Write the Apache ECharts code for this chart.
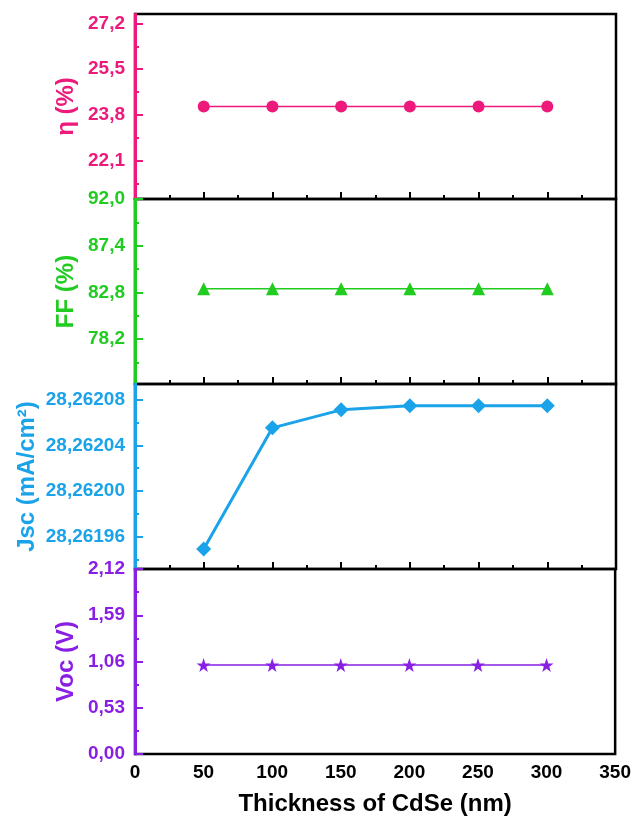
<!DOCTYPE html>
<html>
<head>
<meta charset="utf-8">
<script src="https://cdn.jsdelivr.net/npm/echarts@6/dist/echarts.min.js"></script>
<style>html,body{margin:0;padding:0;background:#fff}#c{width:634px;height:823px}</style>
</head>
<body>
<div id="c"></div>
<script>
// ---- data ----
var thickness = [50, 100, 150, 200, 250, 300];
var eta = [24.12, 24.12, 24.12, 24.12, 24.12, 24.12];
var ff = [83.15, 83.15, 83.15, 83.15, 83.15, 83.15];
var jsc = [28.261949, 28.2620555, 28.2620713, 28.262075, 28.262075, 28.262075];
var voc = [1.02, 1.02, 1.02, 1.02, 1.02, 1.02];

var xTicks = [0, 50, 100, 150, 200, 250, 300, 350];
var etaTicks = [22.1, 23.8, 25.5, 27.2];
var etaMinor = [21.25, 22.95, 24.65, 26.35];
var ffTicks = [78.2, 82.8, 87.4, 92.0];
var ffMinor = [75.9, 80.5, 85.1, 89.7];
var jscTicks = [28.26196, 28.26200, 28.26204, 28.26208];
var jscMinor = [28.26194, 28.26198, 28.26202, 28.26206];
var vocTicks = [0, 0.53, 1.06, 1.59, 2.12];
var vocMinor = [0.265, 0.795, 1.325, 1.855];

var FONT = '"Liberation Sans", Arial, sans-serif';
var panels = [
  {name: 'η (%)', color: '#EE1A7B', data: eta, ticks: etaTicks, minor: etaMinor, min: 20.685, max: 27.55, dec: 1, gap: 57, symbol: 'circle', size: 12, lw: 1.5},
  {name: 'FF (%)', color: '#1FCC1F', data: ff, ticks: ffTicks, minor: ffMinor, min: 73.77, max: 92.0, dec: 1, gap: 57, symbol: 'triangle', size: 13, lw: 1.5},
  {name: 'Jsc (mA/cm²)', color: '#1BA3EA', data: jsc, ticks: jscTicks, minor: jscMinor, min: 28.2619315, max: 28.262094, dec: 5, gap: 96, symbol: 'diamond', size: 15, lw: 3},
  {name: 'Voc (V)', color: '#8A1FE4', data: voc, ticks: vocTicks, minor: vocMinor, min: 0, max: 2.12, dec: 2, gap: 57, symbol: 'path://M50,0 L61.8,35.1 L98.1,35.1 L68.8,56.7 L79.4,91.0 L50,70 L20.6,91.0 L31.2,56.7 L1.9,35.1 L38.2,35.1 Z', size: 14, lw: 1.5}
];

var tops = [14, 199, 384, 569];
var H = 185;
var grids = [], xAxes = [], yAxes = [], series = [];
panels.forEach(function (p, i) {
  grids.push({left: 135, right: 18, top: tops[i], height: H, show: true, borderColor: '#000', borderWidth: 2.5, backgroundColor: 'transparent', containLabel: false});
  var last = i === panels.length - 1;
  xAxes.push({
    type: 'value', gridIndex: i, min: 0, max: 350, interval: 50,
    axisLine: {show: false},
    axisTick: {show: !last, inside: true, length: 7, lineStyle: {color: '#000', width: 2}},
    minorTick: {show: !last, splitNumber: 2, length: 4, lineStyle: {color: '#000', width: 2}},
    splitLine: {show: false},
    axisLabel: {show: last, margin: 9, color: '#000', fontSize: 19, fontWeight: 'bold', fontFamily: FONT,
      customValues: xTicks},
    name: last ? 'Thickness of CdSe (nm)' : '',
    nameLocation: 'middle', nameGap: 38, nameMoveOverlap: false,
    nameTextStyle: {color: '#000', fontSize: 24, fontWeight: 'bold', fontFamily: FONT}
  });
  var fmt = (function (d) { return function (v) { return Number(v).toFixed(d).replace('.', ','); }; })(p.dec);
  yAxes.push({
    type: 'value', gridIndex: i, min: p.min, max: p.max, position: 'left', scale: true,
    axisLine: {show: true, lineStyle: {color: p.color, width: 3}},
    axisTick: {show: true, inside: true, length: 8, customValues: p.ticks, lineStyle: {color: p.color, width: 2}},
    axisLabel: {show: true, customValues: p.ticks, formatter: fmt, margin: 10, color: p.color, fontSize: 19, fontWeight: 'bold', fontFamily: FONT},
    splitLine: {show: false},
    name: p.name, nameLocation: 'middle', nameGap: p.gap, nameMoveOverlap: false,
    nameTextStyle: {color: p.color, fontSize: 24, fontWeight: 'bold', fontFamily: FONT},
    z: 5
  });
  yAxes.push({
    type: 'value', gridIndex: i, min: p.min, max: p.max, position: 'left', scale: true,
    axisLine: {show: false},
    axisTick: {show: true, inside: true, length: 4, customValues: p.minor, lineStyle: {color: p.color, width: 2}},
    axisLabel: {show: false},
    splitLine: {show: false},
    z: 5
  });
  series.push({
    type: 'line', xAxisIndex: i, yAxisIndex: 2 * i,
    data: thickness.map(function (x, k) { return [x, p.data[k]]; }),
    symbol: p.symbol, symbolSize: p.size, showSymbol: true,
    lineStyle: {color: p.color, width: p.lw},
    itemStyle: {color: p.color, opacity: 1},
    animation: false, silent: true
  });
});

var chart = echarts.init(document.getElementById('c'), null, {renderer: 'canvas'});
chart.setOption({
  animation: false,
  backgroundColor: '#fff',
  grid: grids, xAxis: xAxes, yAxis: yAxes, series: series
});
</script>
</body>
</html>
